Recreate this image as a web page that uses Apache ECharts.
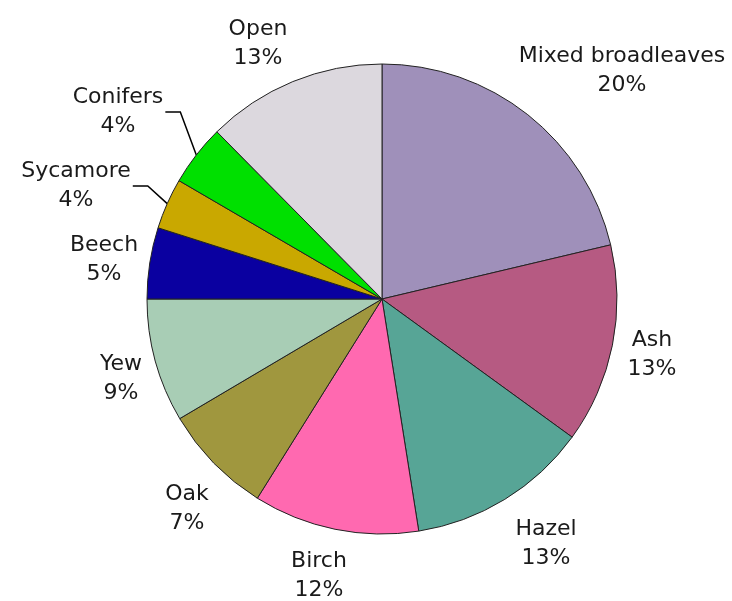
<!DOCTYPE html>
<html><head><meta charset="utf-8">
<script src="https://cdn.jsdelivr.net/npm/echarts@6/dist/echarts.min.js"></script>
<style>html,body{margin:0;padding:0;background:#fff}#c{width:732px;height:601px}</style>
</head><body><div id="c"></div>
<script>
// ---- data ----
const categories = ['Mixed broadleaves', 'Ash', 'Hazel', 'Birch', 'Oak', 'Yew', 'Beech', 'Sycamore', 'Conifers', 'Open'];
// slice shares as drawn in the picture
const shares = [21.3, 13.7, 12.5, 11.4, 7.6, 8.5, 4.9, 3.5, 4.2, 12.4];
// percentages as printed on the labels
const percentLabels = ['20%', '13%', '13%', '12%', '7%', '9%', '5%', '4%', '4%', '13%'];

// ---- style / layout ----
const colors = ['#9F90BA', '#B65A82', '#57A596', '#FF69B0', '#A0973E', '#A8CDB5', '#0A00A0', '#C9A800', '#00E000', '#DCD8DE'];
const CENTER = [382, 299];
const RADIUS = 235;
const labelPos = [[622, 71], [652, 355], [546, 544], [319, 576], [187, 509], [121, 379], [104, 260], [76, 186], [118, 112], [258, 44]];
const hasLeader = [false, false, false, false, false, false, false, true, true, false];

const total = shares.reduce((a, b) => a + b, 0);
const cumBefore = shares.map((_, i) => shares.slice(0, i).reduce((a, b) => a + b, 0));

const chart = echarts.init(document.getElementById('c'), null, {renderer: 'canvas'});
chart.setOption({
  backgroundColor: '#ffffff',
  animation: false,
  series: [{
    type: 'pie',
    center: CENTER,
    radius: RADIUS,
    startAngle: 90,
    clockwise: true,
    avoidLabelOverlap: false,
    emphasis: {disabled: true},
    itemStyle: {borderColor: '#222', borderWidth: 1},
    label: {
      show: true,
      position: 'outside',
      formatter: p => categories[p.dataIndex] + '\n' + percentLabels[p.dataIndex],
      fontFamily: 'DejaVu Sans',
      fontSize: 22,
      lineHeight: 29,
      color: '#1a1a1a',
      align: 'center'
    },
    labelLine: {show: false, lineStyle: {color: '#000', width: 1.5}, smooth: false},
    labelLayout: function (params) {
      const i = params.dataIndex;
      const p = labelPos[i];
      const out = {x: p[0], y: p[1], align: 'center', verticalAlign: 'middle'};
      if (hasLeader[i]) {
        const frac = (cumBefore[i] + shares[i] / 2) / total;
        const th = frac * 2 * Math.PI;
        const end = [CENTER[0] + RADIUS * Math.sin(th), CENTER[1] - RADIUS * Math.cos(th)];
        const sx = p[0] + params.labelRect.width / 2 + 2;
        out.labelLinePoints = [[sx, p[1]], [sx + 15, p[1]], end];
      }
      return out;
    },
    data: categories.map((name, i) => ({
      name: name,
      value: shares[i],
      itemStyle: {color: colors[i]},
      labelLine: {show: hasLeader[i]}
    }))
  }]
});
</script>
</body></html>
